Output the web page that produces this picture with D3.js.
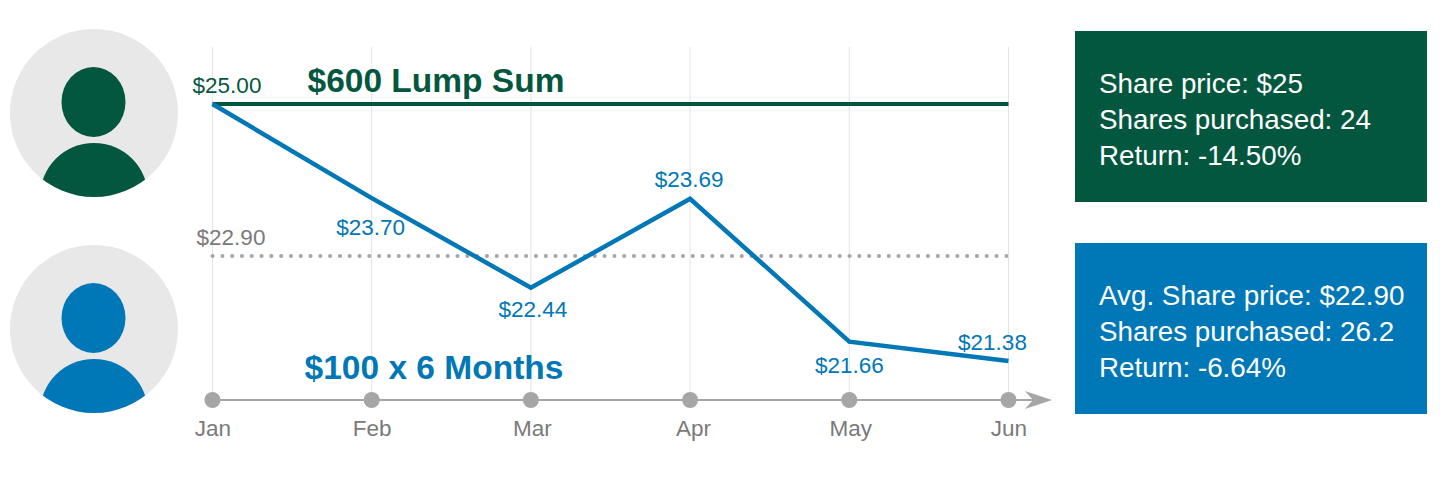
<!DOCTYPE html>
<html>
<head>
<meta charset="utf-8">
<script src="https://cdn.jsdelivr.net/npm/d3@7/dist/d3.min.js"></script>
<style>
	html, body { margin: 0; padding: 0; background: #fff; }
	svg { display: block; }
	text { font-family: "Liberation Sans", Arial, sans-serif; }
	.domain { display: none; }
</style>
</head>
<body>
<div id="chart"></div>
<script>
// Data
let months = ["Jan", "Feb", "Mar", "Apr", "May", "Jun"];
let prices = [25.00, 23.70, 22.44, 23.69, 21.66, 21.38];
let priceLabelDx = [0, -1, 2, -1, 0, -16];
let priceLabelDy = [0, 37, 29, -12, 31, -11];
let monthLabelDx = [0, 0, 1, 3, 1, 0];
let lumpPrice = 25.00;
let avgPrice = 22.90;
let lumpLines = ["Share price: $25", "Shares purchased: 24", "Return: -14.50%"];
let dcaLines = ["Avg. Share price: $22.90", "Shares purchased: 26.2", "Return: -6.64%"];

let green = "#04573f";
let blue = "#0077b6";
let grey = "#a6a6a6";
let textGrey = "#7a7a7a";

let width = 1440;
let height = 490;

let svg = d3.select("#chart").append("svg")
	.attr("width", width)
	.attr("height", height);

let xScale = d3.scalePoint()
	.domain(months)
	.range([212.5, 1008.5]);

// source picture is not quite linear, so three stops
let yScale = d3.scaleLinear()
	.domain([25, 22.9, 21.38])
	.range([104, 256, 361]);

// GRID LINES
svg.selectAll(".grid")
	.data(months)
	.enter()
	.append("line")
	.attr("class", "grid")
	.attr("x1", d => xScale(d))
	.attr("x2", d => xScale(d))
	.attr("y1", 47)
	.attr("y2", 400)
	.attr("stroke", "#e4e4e4")
	.attr("stroke-width", 1);

// TIME AXIS
svg.append("line")
	.attr("x1", 212)
	.attr("x2", 1036)
	.attr("y1", 400)
	.attr("y2", 400)
	.attr("stroke", grey)
	.attr("stroke-width", 2);

svg.append("path")
	.attr("d", "M1025,391L1052,400L1025,409L1033,400Z")
	.attr("fill", grey);

svg.selectAll(".dot")
	.data(months)
	.enter()
	.append("circle")
	.attr("class", "dot")
	.attr("cx", d => xScale(d))
	.attr("cy", 400)
	.attr("r", 8)
	.attr("fill", grey);

let xAxis = d3.axisBottom()
	.scale(xScale)
	.tickSize(0)
	.tickPadding(20);

svg.append("g")
	.attr("class", "axis x-axis")
	.attr("transform", "translate(0,400)")
	.call(xAxis)
	.call(g => g.selectAll("text")
		.attr("fill", textGrey)
		.attr("dx", (d, i) => monthLabelDx[i])
		.style("font-size", "22.5px")
		.style("font-family", "'Liberation Sans', Arial, sans-serif"));

// AVERAGE LINE
svg.append("line")
	.attr("x1", xScale("Jan"))
	.attr("x2", xScale("Jun"))
	.attr("y1", yScale(avgPrice))
	.attr("y2", yScale(avgPrice))
	.attr("stroke", grey)
	.attr("stroke-width", 4)
	.attr("stroke-linecap", "round")
	.attr("stroke-dasharray", "0.1 9.7");

svg.append("text")
	.attr("x", 231)
	.attr("y", 245)
	.attr("text-anchor", "middle")
	.attr("fill", textGrey)
	.style("font-size", "22.5px")
	.text("$" + avgPrice.toFixed(2));

// LUMP SUM LINE
svg.append("line")
	.attr("x1", xScale("Jan"))
	.attr("x2", xScale("Jun"))
	.attr("y1", yScale(lumpPrice))
	.attr("y2", yScale(lumpPrice))
	.attr("stroke", green)
	.attr("stroke-width", 4);

svg.append("text")
	.attr("x", 227)
	.attr("y", 93)
	.attr("text-anchor", "middle")
	.attr("fill", green)
	.style("font-size", "22.5px")
	.text("$" + lumpPrice.toFixed(2));

svg.append("text")
	.attr("x", 436)
	.attr("y", 92)
	.attr("text-anchor", "middle")
	.attr("fill", green)
	.style("font-size", "33.5px")
	.style("font-weight", "bold")
	.text("$600 Lump Sum");

// MONTHLY PRICE LINE
let line = d3.line()
	.x((d, i) => xScale(months[i]))
	.y(d => yScale(d));

svg.append("path")
	.datum(prices)
	.attr("d", line)
	.attr("fill", "none")
	.attr("stroke", blue)
	.attr("stroke-width", 4.5);

// first price is labelled by the lump sum text
svg.selectAll(".price-label")
	.data(prices.slice(1))
	.enter()
	.append("text")
	.attr("class", "price-label")
	.attr("x", (d, i) => xScale(months[i + 1]) + priceLabelDx[i + 1])
	.attr("y", (d, i) => yScale(d) + priceLabelDy[i + 1])
	.attr("text-anchor", "middle")
	.attr("fill", blue)
	.style("font-size", "22.5px")
	.text(d => "$" + d.toFixed(2));

svg.append("text")
	.attr("x", 434)
	.attr("y", 379)
	.attr("text-anchor", "middle")
	.attr("fill", blue)
	.style("font-size", "33.5px")
	.style("font-weight", "bold")
	.text("$100 x 6 Months");

// AVATARS
function drawAvatar(cy, color, id) {
	let g = svg.append("g");
	g.append("clipPath")
		.attr("id", id)
		.append("circle")
		.attr("cx", 94)
		.attr("cy", cy)
		.attr("r", 84);
	g.append("circle")
		.attr("cx", 94)
		.attr("cy", cy)
		.attr("r", 84)
		.attr("fill", "#e8e8e8");
	g.append("ellipse")
		.attr("cx", 93.5)
		.attr("cy", cy - 11)
		.attr("rx", 32)
		.attr("ry", 35)
		.attr("fill", color);
	g.append("circle")
		.attr("cx", 94)
		.attr("cy", cy + 84)
		.attr("r", 54)
		.attr("fill", color)
		.attr("clip-path", "url(#" + id + ")");
}

drawAvatar(113, green, "clip-green");
drawAvatar(329, blue, "clip-blue");

// INFO BOXES
function drawBox(y, color, lines, textX) {
	svg.append("rect")
		.attr("x", 1075)
		.attr("y", y)
		.attr("width", 352)
		.attr("height", 171)
		.attr("fill", color);
	svg.selectAll(".box-" + y)
		.data(lines)
		.enter()
		.append("text")
		.attr("class", "box-" + y)
		.attr("x", textX)
		.attr("y", (d, i) => y + 62 + i * 36)
		.attr("fill", "#fff")
		.style("font-size", "27.8px")
		.text(d => d);
}

drawBox(31, green, lumpLines, 1099);
drawBox(243, blue, dcaLines, 1099);
</script>
</body>
</html>
